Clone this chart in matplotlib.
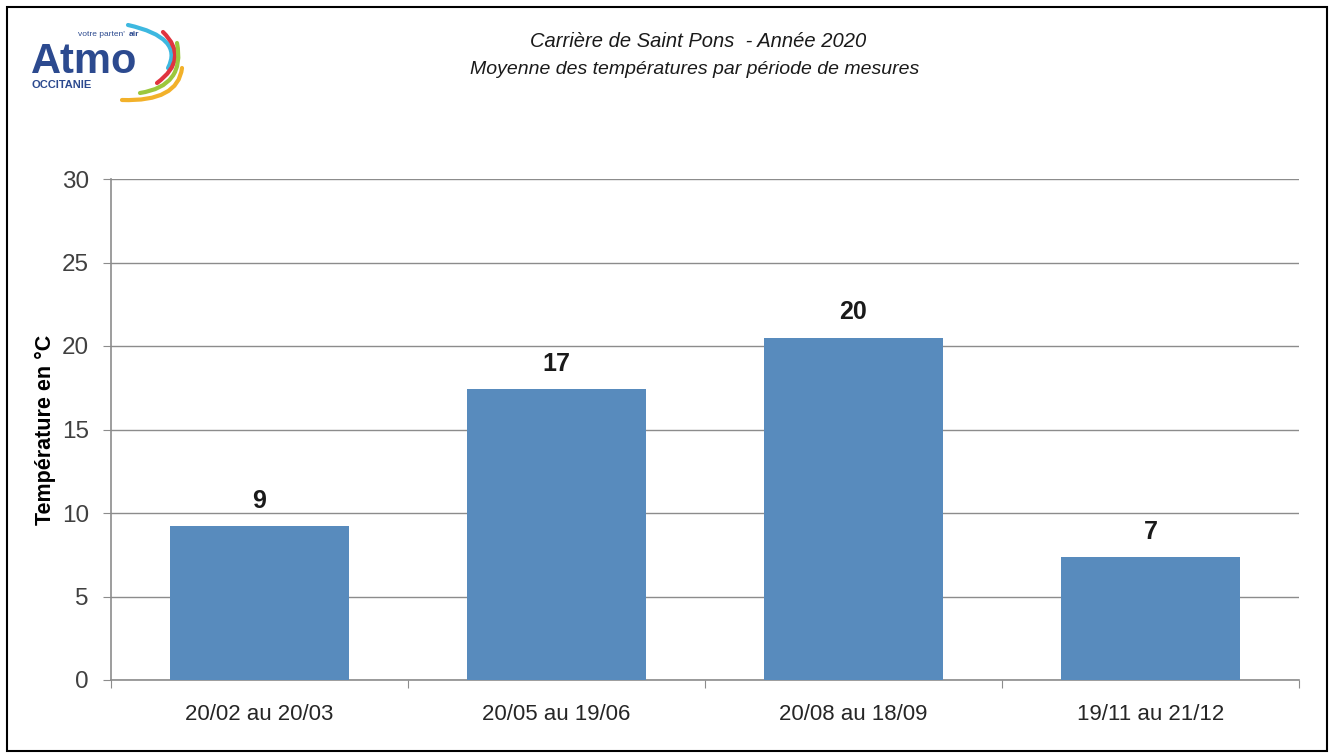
import matplotlib.pyplot as plt
from matplotlib.patches import Rectangle, PathPatch
from matplotlib.path import Path

# Data
periodes = ["20/02 au 20/03", "20/05 au 19/06", "20/08 au 18/09", "19/11 au 21/12"]
temperatures = [9.2, 17.4, 20.5, 7.35]
yticks = [0, 5, 10, 15, 20, 25, 30]

plt.rcParams["font.family"] = ["Liberation Sans", "DejaVu Sans"]

fig = plt.figure(figsize=(13.33, 7.56), dpi=100)

# ----------------------------------------------------
# Bar chart
# ----------------------------------------------------
ax = fig.add_axes([111 / 1333, 1 - 680 / 756, (1299 - 111) / 1333, (680 - 179) / 756])

x = list(range(len(periodes)))
bars = ax.bar(x, temperatures, width=0.6, color="#588bbd", zorder=3)

for rect, val in zip(bars, temperatures):
    ax.text(rect.get_x() + rect.get_width() / 2, val + 0.8, f"{val:.0f}",
            ha="center", va="bottom", fontsize=18, fontweight="bold", color="#1a1a1a")

ax.set_xlim(-0.5, len(periodes) - 0.5)
ax.set_ylim(0, 30)
ax.set_yticks(yticks)
ax.tick_params(axis="y", labelsize=17.5, labelcolor="#404040", length=6,
               color="#8c8c8c", pad=10)

# category boundaries as ticks, labels at centres
ax.set_xticks([i - 0.5 for i in range(len(periodes) + 1)])
ax.set_xticklabels([])
ax.set_xticks(x, minor=True)
ax.set_xticklabels(periodes, minor=True)
ax.tick_params(axis="x", which="major", length=6, color="#8c8c8c")
ax.tick_params(axis="x", which="minor", length=0, labelsize=16,
               labelcolor="#262626", pad=17)

ax.yaxis.grid(True, color="#8c8c8c", linewidth=1, zorder=0)
for side in ["top", "right"]:
    ax.spines[side].set_visible(False)
for side in ["left", "bottom"]:
    ax.spines[side].set_color("#8c8c8c")
    ax.spines[side].set_linewidth(1.2)

ax.set_ylabel("Température en °C", fontsize=15.5, fontweight="bold", labelpad=4)

# ----------------------------------------------------
# Titles
# ----------------------------------------------------
fig.text(698 / 1333, 1 - 47 / 756, "Carrière de Saint Pons  - Année 2020",
         ha="center", va="baseline", fontsize=14.5, style="italic", color="#1a1a1a")
fig.text(695 / 1333, 1 - 74 / 756, "Moyenne des températures par période de mesures",
         ha="center", va="baseline", fontsize=14, style="italic", color="#1a1a1a")

# ----------------------------------------------------
# Frame and logo (pixel coordinates overlay)
# ----------------------------------------------------
over = fig.add_axes([0, 0, 1, 1], zorder=-1)
over.set_xlim(0, 1333)
over.set_ylim(756, 0)
over.axis("off")
over.add_patch(Rectangle((7, 7), 1320, 744, fill=False, edgecolor="black", linewidth=1.5))

logo_blue = "#2c4a8f"
over.text(31, 73, "Atmo", fontsize=30, fontweight="bold", color=logo_blue, va="baseline")
over.text(78, 36, "votre parten'", fontsize=6, color=logo_blue, va="baseline")
over.text(129, 36, "air", fontsize=6, fontweight="bold", color=logo_blue, va="baseline")
over.text(32, 88, "OCCITANIE", fontsize=8, fontweight="bold", color=logo_blue, va="baseline")

# swooshes: start, middle, end points
swooshes = [
    ((128, 25), (166, 42), (168, 68), "#3db8e0"),
    ((163, 32), (175, 58), (157, 83), "#e0343f"),
    ((177, 43), (172, 77), (140, 93), "#9cc73d"),
    ((182, 68), (165, 93), (122, 100), "#f2b12a"),
]
for p0, m, p2, col in swooshes:
    ctrl = (2 * m[0] - (p0[0] + p2[0]) / 2, 2 * m[1] - (p0[1] + p2[1]) / 2)
    path = Path([p0, ctrl, p2], [Path.MOVETO, Path.CURVE3, Path.CURVE3])
    over.add_patch(PathPatch(path, fill=False, edgecolor=col, linewidth=3,
                             capstyle="round"))

fig.savefig("out.png", dpi=100)
